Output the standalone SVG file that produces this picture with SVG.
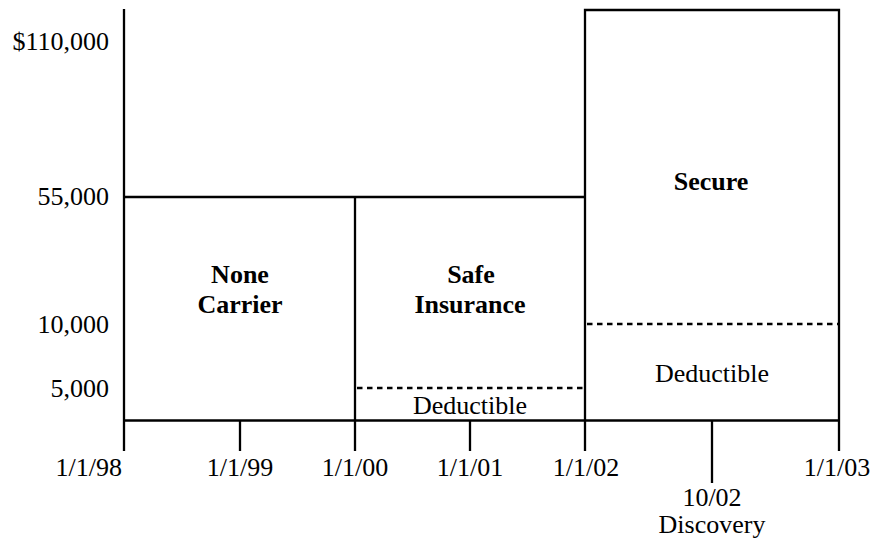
<svg xmlns="http://www.w3.org/2000/svg" width="874" height="543" viewBox="0 0 874 543">
<style>
.ln{stroke:#000;stroke-width:2.3;fill:none;stroke-linecap:butt}
.dot{stroke:#000;stroke-width:2.5;fill:none;stroke-dasharray:5.5 4.5}
text{font-family:"Liberation Serif","Times New Roman",serif;font-size:26px;fill:#000}
.b{font-weight:bold;text-anchor:middle}
.c{text-anchor:middle}
.r{text-anchor:end}
</style>
<rect width="874" height="543" fill="#fff"/>
<g id="axes">
<line class="ln" x1="124" y1="9" x2="124" y2="451"/>
<line class="ln" x1="124" y1="420.5" x2="839" y2="420.5"/>
<line class="ln" x1="240" y1="420" x2="240" y2="451"/>
<line class="ln" x1="470" y1="420" x2="470" y2="451"/>
<line class="ln" x1="712" y1="420" x2="712" y2="483"/>
<text class="r" x="109" y="50">$110,000</text>
<text class="r" x="109" y="205">55,000</text>
<text class="r" x="109" y="333">10,000</text>
<text class="r" x="109" y="397">5,000</text>
<text class="r" x="122" y="476">1/1/98</text>
<text class="c" x="240" y="476">1/1/99</text>
<text class="c" x="355" y="476">1/1/00</text>
<text class="c" x="470" y="476">1/1/01</text>
<text class="c" x="586" y="476">1/1/02</text>
<text class="c" x="837" y="476">1/1/03</text>
<text class="c" x="712" y="506">10/02</text>
<text class="c" x="712" y="533">Discovery</text>
</g>
<g id="none-carrier">
<line class="ln" x1="124" y1="197" x2="355" y2="197"/>
<text class="b" x="240" y="283">None</text>
<text class="b" x="240" y="313">Carrier</text>
</g>
<g id="safe-insurance">
<line class="ln" x1="355" y1="197" x2="585" y2="197"/>
<line class="ln" x1="355" y1="196" x2="355" y2="451"/>
<line class="dot" x1="357" y1="388" x2="585" y2="388"/>
<text class="b" x="471" y="283">Safe</text>
<text class="b" x="470" y="313">Insurance</text>
<text class="c" x="470" y="414">Deductible</text>
</g>
<g id="secure">
<polyline class="ln" points="585,451 585,10 839,10 839,451"/>
<line class="dot" x1="587" y1="324" x2="839" y2="324"/>
<text class="b" x="711" y="190">Secure</text>
<text class="c" x="712" y="382">Deductible</text>
</g>
</svg>
